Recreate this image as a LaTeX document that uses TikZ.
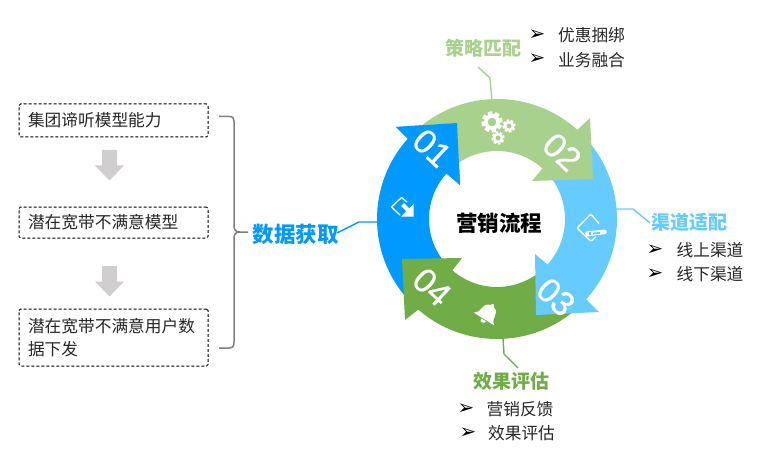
\documentclass[tikz,border=0pt]{standalone}
\usepackage{fontspec}
\setmainfont{Noto Sans CJK SC}
\newfontfamily\numfont[FakeBold=0.6]{Liberation Sans}
\newfontfamily\symfont{DejaVu Sans}
\usetikzlibrary{calc}
\definecolor{cA}{HTML}{0099FF}
\definecolor{cB}{HTML}{A9D18E}
\definecolor{cC}{HTML}{66CCFF}
\definecolor{cD}{HTML}{70AD47}
\definecolor{txt}{HTML}{262626}
\definecolor{graya}{HTML}{D0CECE}
\definecolor{brace}{HTML}{7F7F7F}
\tikzset{
  dashbox/.style={draw=black,line width=1pt,dash pattern=on 3pt off 2pt,rounded corners=1.5pt,
    minimum width=#1,inner xsep=9pt,inner ysep=0pt,text width=171pt,align=left,text=txt,
    font=\fontsize{16.7}{23}\selectfont},
  head/.style={font=\fontsize{19}{22}\selectfont\bfseries,inner sep=0pt},
  item/.style={font=\fontsize{16.7}{20}\selectfont,text=txt,inner sep=0pt},
  bullet/.style={font=\symfont\fontsize{20}{22}\selectfont,inner sep=0pt},
  num/.style={font=\numfont\fontsize{34}{38}\selectfont,text=white,rotate=-43,inner sep=0pt},
  conn/.style={line width=1.4pt},
  icon/.style={draw=white,line width=1.3pt,line join=round,line cap=round},
}
\newcommand{\ringarrow}[6]{% colour, start angle, neck angle, barb outer, tip, barb inner
  \fill[#1] ($(c)+(#2:120)$) arc[start angle=#2,end angle=#3,radius=120] -- (#4) -- (#5) -- (#6)
     -- ($(c)+(#3:68)$) arc[start angle=#3,end angle=#2,radius=68] -- cycle;}
\newcommand{\cog}[4]{% x, y, radius, hole
  \fill[white] (#1,#2) circle[radius=#3*0.76];
  \foreach \a in {0,45,...,315}{
    \fill[white,shift={(#1,#2)},rotate=\a+12] (-#3*0.22,0) rectangle (#3*0.22,#3);
  }
  \fill[cB] (#1,#2) circle[radius=#4];}
\begin{document}
\begin{tikzpicture}[x=1pt,y=1pt]
\useasboundingbox (0,0) rectangle (762,-449);
\coordinate (c) at (497,-219);
% connectors to the ring
\coordinate (t0) at (492,-101); \coordinate (t1) at (490,-78); \coordinate (t2) at (478,-67);
\coordinate (r0) at (615,-209); \coordinate (r1) at (633,-209); \coordinate (r2) at (650,-223);
\coordinate (b0) at (503,-338); \coordinate (b1) at (504,-354); \coordinate (b2) at (518,-368);
\coordinate (l0) at (379,-222); \coordinate (l1) at (359,-222); \coordinate (l2) at (337,-233);
\draw[conn,cB] (t0) -- (t1) -- (t2);
\draw[conn,cC] (r0) -- (r1) -- (r2);
\draw[conn,cD] (b0) -- (b1) -- (b2);
\draw[conn,cA] (l0) -- (l1) -- (l2);
% ring
\ringarrow{cA}{222}{138}{396,-127}{457,-123}{460,-185}
\ringarrow{cD}{312}{229}{405,-320}{402,-259}{462,-258}
\ringarrow{cC}{42}{-42}{599,-312}{536,-315}{535,-254}
\ringarrow{cB}{132}{48}{590,-118}{593,-179}{532,-181}
\fill[cA] (396,-127) -- (457,-123) -- (460,-185) -- ($(c)+(138:68)$) -- ($(c)+(138:120)$) -- cycle;
\node[num] (n1) at (432,-148) {01};
\node[num] (n2) at (562,-152) {02};
\node[num] (n3) at (556,-297) {03};
\node[num] (n4) at (432,-287) {04};
\node[font=\fontsize{21.5}{24}\selectfont\bfseries,inner sep=0pt] (mid) at (499,-223) {营销流程};
% gears
\cog{492}{-122}{10.5}{4.3}
\cog{509}{-126}{6.5}{2.5}
\cog{498}{-138}{6.5}{2.5}
% tag with pencil
\draw[icon] (599,-223.5) -- (592,-215.5) .. controls (591,-214.5) and (590.5,-214.5) .. (589.5,-215.5)
  -- (578.5,-226.5) .. controls (577.5,-227.5) and (577.5,-228.5) .. (578.5,-229.5)
  -- (589,-239.5) .. controls (590.5,-241) and (591.5,-241) .. (592.5,-240) -- (595.5,-237);
\fill[white,rounded corners=1pt] (586,-231.5) -- (605,-229.5) -- (607,-231) -- (606,-234) -- (587,-236.5) -- (585,-234) -- cycle;
\fill[cC] (589,-232.3) rectangle (590.8,-234.6);
\fill[cC] (593,-232.6) -- (600,-232) -- (600,-233.8) -- (593,-234.6) -- cycle;
% box with arrow
\draw[icon] (407,-202) -- (401.5,-197.5) -- (391.5,-207) -- (400,-215);
\fill[white] (413.5,-204) -- (413.5,-216.5) -- (401,-216.5) -- cycle;
\draw[white,line width=4pt] (402.5,-204.5) -- (409,-211);
% bell
\begin{scope}[shift={(484,-319)},rotate=-32]
\fill[white] (-12,0) .. controls (-8,3) and (-8,6) .. (-7.5,9) .. controls (-7,14) and (-3,15.5) .. (0,15.5)
  .. controls (3,15.5) and (7,14) .. (7.5,9) .. controls (8,6) and (8,3) .. (12,0) -- cycle;
\fill[white] (0,16) circle[radius=1.8];
\fill[white] (-3,-1) arc[start angle=180,end angle=360,radius=3] -- cycle;
\end{scope}
% labels
\node[head,text=cB] (h1) at (483,-48) {策略匹配};
\node[head,text=cC] (h2) at (689,-222) {渠道适配};
\node[head,text=cD] (h3) at (511,-381) {效果评估};
\node[font=\fontsize{21.5}{24}\selectfont\bfseries,text=cA,inner sep=0pt] (h4) at (295.5,-234.5) {数据获取};
\node[bullet] (bu1) at (537,-35) {➢};
\node[bullet] (bu2) at (537,-59.5) {➢};
\node[item] (i1) at (591.5,-35.5) {优惠捆绑};
\node[item] (i2) at (591.5,-60) {业务融合};
\node[bullet] (bu3) at (655,-250) {➢};
\node[bullet] (bu4) at (655,-274) {➢};
\node[item] (i3) at (710,-250) {线上渠道};
\node[item] (i4) at (710,-274) {线下渠道};
\node[bullet] (bu5) at (466,-409) {➢};
\node[bullet] (bu6) at (468,-433) {➢};
\node[item] (i5) at (520,-409) {营销反馈};
\node[item] (i6) at (521.5,-433) {效果评估};
% left boxes
\node[dashbox=189pt,minimum height=33pt] (s1) at (113.5,-120.5) {集团谛听模型能力};
\node[dashbox=189pt,minimum height=31pt] (s2) at (113.5,-222.5) {潜在宽带不满意模型};
\node[dashbox=189pt,minimum height=57pt] (s3) at (113.5,-337.5) {潜在宽带不满意用户数\\据下发};
% gray arrows
\coordinate (g1) at (109.5,-150);
\coordinate (g2) at (109.5,-266);
\foreach \g in {g1,g2}{
  \fill[graya] ($(\g)+(-7.5,0)$) -- ($(\g)+(7.5,0)$) -- ($(\g)+(7.5,-15.5)$) -- ($(\g)+(14.5,-15.5)$)
    -- ($(\g)+(0,-30.5)$) -- ($(\g)+(-14.5,-15.5)$) -- ($(\g)+(-7.5,-15.5)$) -- cycle;
}
% brace
\coordinate (br1) at (219,-116.5);
\coordinate (br2) at (248,-232);
\coordinate (br3) at (219,-348);
\draw[brace,line width=1.5pt] (br1) -- (229,-116.5) .. controls (233,-116.5) and (234,-118) .. (234,-121)
  -- (234,-226) .. controls (234,-230) and (236,-232) .. (240,-232) -- (br2)
  (240,-232) .. controls (236,-232) and (234,-234) .. (234,-238)
  -- (234,-342) .. controls (234,-346) and (233,-348) .. (229,-348) -- (br3);
\end{tikzpicture}
\end{document}
